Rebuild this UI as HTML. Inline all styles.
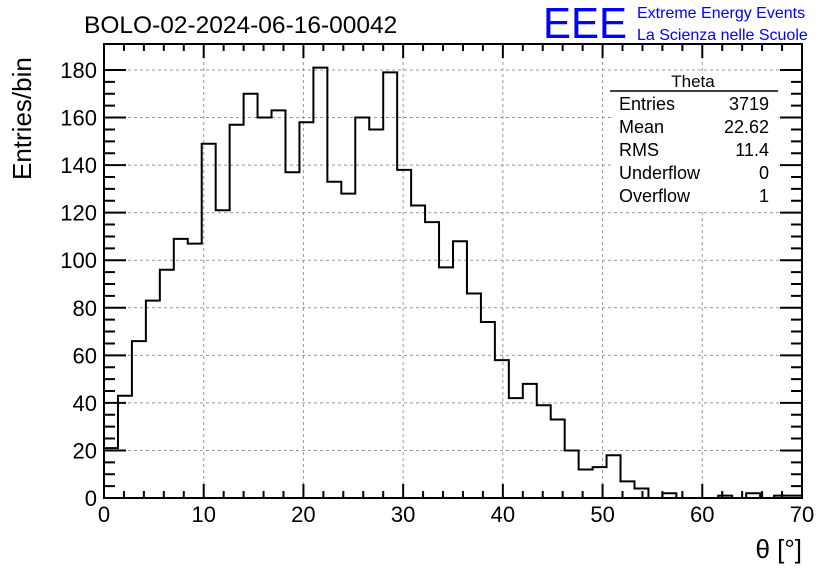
<!DOCTYPE html>
<html><head><meta charset="utf-8"><style>
body{margin:0;background:#fff}
svg{display:block;font-family:"Liberation Sans",sans-serif}
</style></head><body>
<svg id="c" width="836" height="572">
<rect width="836" height="572" fill="#fff"/>
<text x="84" y="33" font-size="24.5">BOLO-02-2024-06-16-00042</text>
<text x="543" y="38" font-size="44" fill="#0000ff" textLength="84" lengthAdjust="spacingAndGlyphs">EEE</text>
<text x="637" y="18" font-size="16" fill="#0000ff">Extreme Energy Events</text>
<text x="637" y="40" font-size="16" fill="#0000ff">La Scienza nelle Scuole</text>
<text transform="translate(31,180) rotate(-90)" font-size="26">Entries/bin</text>
<text x="802" y="558" font-size="26" text-anchor="end">θ [°]</text>
<g id="grid"></g><g id="axes"></g><path id="hist" fill="none" stroke="#000" stroke-width="2"/>
<g font-size="18">
<rect x="612" y="74" width="166" height="135" fill="#fff"/>
<text x="693" y="87" font-size="17" text-anchor="middle">Theta</text>
<line x1="610" y1="91" x2="778" y2="91" stroke="#000" stroke-width="1.5"/>
<text x="619" y="110">Entries</text><text x="769" y="110" text-anchor="end">3719</text>
<text x="619" y="133">Mean</text><text x="769" y="133" text-anchor="end">22.62</text>
<text x="619" y="156">RMS</text><text x="769" y="156" text-anchor="end">11.4</text>
<text x="619" y="179">Underflow</text><text x="769" y="179" text-anchor="end">0</text>
<text x="619" y="202">Overflow</text><text x="769" y="202" text-anchor="end">1</text>
</g>
</svg>
<script>
const binWidth = 1.4;
const counts = [21,43,66,83,96,109,107,149,121,157,170,160,163,137,158,181,133,128,160,155,179,138,123,116,97,108,86,74,58,42,48,39,33,20,12,13,18,7,4,0,2,0,0,0,1,0,2,0,1,1];
const xTicks = [0,10,20,30,40,50,60,70];
const yTicks = [0,20,40,60,80,100,120,140,160,180];
const X0=104,X1=802,Y0=498,Y1=70,XMAX=70,YMAX=180;
const sx=v=>X0+(X1-X0)*v/XMAX, sy=v=>Y0-(Y0-Y1)*v/YMAX;
const NS="http://www.w3.org/2000/svg";
const grid=document.getElementById('grid'), axes=document.getElementById('axes');
function mk(p,tag,a){const e=document.createElementNS(NS,tag);for(const k in a)e.setAttribute(k,a[k]);p.appendChild(e);return e;}
xTicks.forEach(t=>{
 if(t>0&&t<XMAX){const g=mk(grid,'line',{x1:sx(t),x2:sx(t),y1:44,y2:Y0,stroke:'#999','stroke-dasharray':'3,3'});
 
 }
 const l=mk(axes,'text',{x:sx(t),y:522,'font-size':22,'text-anchor':'middle'});l.textContent=t;
 
 
});
yTicks.forEach(t=>{
 if(t>0){const g=mk(grid,'line',{x1:X0,x2:X1,y1:sy(t),y2:sy(t),stroke:'#999','stroke-dasharray':'3,3'});
 
 }
 const l=mk(axes,'text',{x:97,y:sy(t)+8,'font-size':22,'text-anchor':'end'});l.textContent=t;
 
 
});
const fr=mk(axes,'rect',{x:X0,y:44,width:X1-X0,height:Y0-44,fill:'none',stroke:'#000','stroke-width':2});


let tp='';
for(let v=0;v<=XMAX+0.01;v+=2){const x=sx(v),L=(v%10===0)?14:7;tp+=`M${x},${Y0}v${-L}M${x},44v${L}`;}
for(let v=0;v<=YMAX+0.01;v+=5){const y=sy(v),L=(v%20===0)?22:11;tp+=`M${X0},${y}h${L}M${X1},${y}h${-L}`;}
const tk=mk(axes,'path',{d:tp,stroke:'#000','stroke-width':2});


let d=`M${sx(0)},${sy(counts[0])}`;
counts.forEach((c,i)=>{d+=`L${sx(i*binWidth)},${sy(c)}L${sx((i+1)*binWidth)},${sy(c)}`;});
document.getElementById('hist').setAttribute('d',d);
</script>
</body></html>
